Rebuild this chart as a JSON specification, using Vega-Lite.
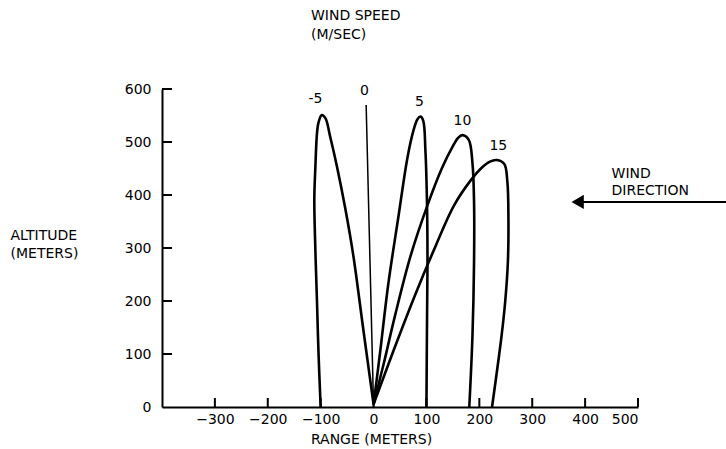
{
  "$schema": "https://vega.github.io/schema/vega-lite/v6.json",
  "width": 476,
  "height": 318,
  "autosize": {"type": "none"},
  "padding": {"left": 162, "top": 89, "right": 88, "bottom": 42},
  "background": "white",
  "title": {
    "text": ["WIND SPEED", "(M/SEC)"],
    "anchor": "start",
    "frame": "group",
    "dx": 149,
    "offset": 40,
    "font": "DejaVu Sans",
    "fontSize": 14,
    "fontWeight": "normal",
    "lineHeight": 19,
    "color": "black"
  },
  "config": {
    "view": {"stroke": null},
    "font": "DejaVu Sans",
    "axis": {
      "grid": false,
      "domainColor": "black",
      "domainWidth": 2,
      "ticks": false,
      "labelFont": "DejaVu Sans",
      "labelFontSize": 14,
      "labelColor": "black",
      "titleFont": "DejaVu Sans",
      "titleFontSize": 14,
      "titleFontWeight": "normal",
      "titleColor": "black"
    }
  },
  "datasets": {
    "curves": [
      {"s": "-5", "i": 1, "x": -100, "y": 0},
      {"s": "-5", "i": 2, "x": -104, "y": 100},
      {"s": "-5", "i": 3, "x": -107, "y": 200},
      {"s": "-5", "i": 4, "x": -110, "y": 296},
      {"s": "-5", "i": 5, "x": -112, "y": 391},
      {"s": "-5", "i": 6, "x": -110, "y": 453},
      {"s": "-5", "i": 7, "x": -107, "y": 516},
      {"s": "-5", "i": 8, "x": -104, "y": 537},
      {"s": "-5", "i": 9, "x": -98, "y": 551},
      {"s": "-5", "i": 10, "x": -91, "y": 545},
      {"s": "-5", "i": 11, "x": -82, "y": 510},
      {"s": "-5", "i": 12, "x": -69, "y": 453},
      {"s": "-5", "i": 13, "x": -53, "y": 372},
      {"s": "-5", "i": 14, "x": -38, "y": 284},
      {"s": "-5", "i": 15, "x": -20, "y": 151},
      {"s": "-5", "i": 16, "x": 0, "y": 5},
      {"s": "0", "i": 1, "x": 0, "y": 0},
      {"s": "0", "i": 2, "x": -14, "y": 570},
      {"s": "5", "i": 1, "x": 0, "y": 5},
      {"s": "5", "i": 2, "x": 12, "y": 100},
      {"s": "5", "i": 3, "x": 28, "y": 233},
      {"s": "5", "i": 4, "x": 47, "y": 359},
      {"s": "5", "i": 5, "x": 64, "y": 470},
      {"s": "5", "i": 6, "x": 75, "y": 520},
      {"s": "5", "i": 7, "x": 83, "y": 543},
      {"s": "5", "i": 8, "x": 89, "y": 548},
      {"s": "5", "i": 9, "x": 94, "y": 540},
      {"s": "5", "i": 10, "x": 98, "y": 485},
      {"s": "5", "i": 11, "x": 101, "y": 387},
      {"s": "5", "i": 12, "x": 102, "y": 274},
      {"s": "5", "i": 13, "x": 101, "y": 150},
      {"s": "5", "i": 14, "x": 100, "y": 0},
      {"s": "10", "i": 1, "x": 0, "y": 5},
      {"s": "10", "i": 2, "x": 20, "y": 85},
      {"s": "10", "i": 3, "x": 40, "y": 170},
      {"s": "10", "i": 4, "x": 70, "y": 285},
      {"s": "10", "i": 5, "x": 101, "y": 378},
      {"s": "10", "i": 6, "x": 129, "y": 450},
      {"s": "10", "i": 7, "x": 151, "y": 494},
      {"s": "10", "i": 8, "x": 160, "y": 508},
      {"s": "10", "i": 9, "x": 168, "y": 513},
      {"s": "10", "i": 10, "x": 180, "y": 504},
      {"s": "10", "i": 11, "x": 187, "y": 460},
      {"s": "10", "i": 12, "x": 190, "y": 387},
      {"s": "10", "i": 13, "x": 190, "y": 274},
      {"s": "10", "i": 14, "x": 187, "y": 134},
      {"s": "10", "i": 15, "x": 181, "y": 0},
      {"s": "15", "i": 1, "x": 0, "y": 5},
      {"s": "15", "i": 2, "x": 38, "y": 107},
      {"s": "15", "i": 3, "x": 78, "y": 210},
      {"s": "15", "i": 4, "x": 114, "y": 296},
      {"s": "15", "i": 5, "x": 152, "y": 380},
      {"s": "15", "i": 6, "x": 184, "y": 428},
      {"s": "15", "i": 7, "x": 204, "y": 451},
      {"s": "15", "i": 8, "x": 220, "y": 463},
      {"s": "15", "i": 9, "x": 233, "y": 466},
      {"s": "15", "i": 10, "x": 247, "y": 459},
      {"s": "15", "i": 11, "x": 253, "y": 425},
      {"s": "15", "i": 12, "x": 255, "y": 356},
      {"s": "15", "i": 13, "x": 254, "y": 274},
      {"s": "15", "i": 14, "x": 249, "y": 200},
      {"s": "15", "i": 15, "x": 242, "y": 134},
      {"s": "15", "i": 16, "x": 224, "y": 0}
    ],
    "labels": [
      {"t": "-5", "x": -110, "y": 573},
      {"t": "0", "x": -17, "y": 589},
      {"t": "5", "x": 87, "y": 567},
      {"t": "10", "x": 168, "y": 532},
      {"t": "15", "x": 236, "y": 485}
    ],
    "ticks": [
      {"x": -300, "x2": -300, "y": 0, "y2": 17},
      {"x": -200, "x2": -200, "y": 0, "y2": 17},
      {"x": -100, "x2": -100, "y": 0, "y2": 17},
      {"x": 0, "x2": 0, "y": 0, "y2": 17},
      {"x": 100, "x2": 100, "y": 0, "y2": 17},
      {"x": 200, "x2": 200, "y": 0, "y2": 17},
      {"x": 300, "x2": 300, "y": 0, "y2": 17},
      {"x": 400, "x2": 400, "y": 0, "y2": 17},
      {"x": 500, "x2": 500, "y": 0, "y2": 17},
      {"x": -400, "x2": -381, "y": 100, "y2": 100},
      {"x": -400, "x2": -381, "y": 200, "y2": 200},
      {"x": -400, "x2": -381, "y": 300, "y2": 300},
      {"x": -400, "x2": -381, "y": 400, "y2": 400},
      {"x": -400, "x2": -381, "y": 500, "y2": 500},
      {"x": -400, "x2": -381, "y": 600, "y2": 600}
    ],
    "arrow": [{"x": 380, "x2": 670, "y": 387}],
    "head": [{"x": 386, "y": 387}],
    "wind": [
      {"t": "WIND", "x": 450, "y": 432},
      {"t": "DIRECTION", "x": 450, "y": 400}
    ]
  },
  "encoding": {
    "x": {
      "field": "x",
      "type": "quantitative",
      "scale": {"domain": [-400, 500], "nice": false, "zero": false},
      "axis": {
        "values": [-300, -200, -100, 0, 100, 200, 300, 400, 500],
        "labelPadding": 5,
        "title": "RANGE (METERS)",
        "titleAnchor": "start",
        "titleAlign": "center",
        "titleBaseline": "top",
        "titleX": 209,
        "titleY": 25
      }
    },
    "y": {
      "field": "y",
      "type": "quantitative",
      "scale": {"domain": [0, 600], "nice": false, "zero": false},
      "axis": {
        "values": [0, 100, 200, 300, 400, 500, 600],
        "labelPadding": 11,
        "title": ["ALTITUDE", "(METERS)"],
        "titleAngle": 0,
        "titleAlign": "left",
        "titleBaseline": "top",
        "titleLineHeight": 18,
        "titleX": -152,
        "titleY": 139
      }
    }
  },
  "layer": [
    {
      "data": {"name": "curves"},
      "transform": [{"filter": "datum.s != '0'"}],
      "mark": {"type": "line", "color": "black", "strokeWidth": 2.6, "interpolate": "catmull-rom", "clip": false},
      "encoding": {
        "detail": {"field": "s", "type": "nominal"},
        "order": {"field": "i", "type": "quantitative"}
      }
    },
    {
      "data": {"name": "curves"},
      "transform": [{"filter": "datum.s == '0'"}],
      "mark": {"type": "line", "color": "black", "strokeWidth": 1.5},
      "encoding": {
        "order": {"field": "i", "type": "quantitative"}
      }
    },
    {
      "data": {"name": "labels"},
      "mark": {"type": "text", "color": "black", "fontSize": 14, "align": "center", "baseline": "alphabetic"},
      "encoding": {"text": {"field": "t", "type": "nominal"}}
    },
    {
      "data": {"name": "arrow"},
      "mark": {"type": "rule", "color": "black", "strokeWidth": 2, "clip": false},
      "encoding": {"x2": {"field": "x2"}}
    },
    {
      "data": {"name": "head"},
      "mark": {"type": "point", "shape": "triangle-left", "filled": true, "color": "black", "size": 200, "opacity": 1},
      "encoding": {}
    },
    {
      "data": {"name": "wind"},
      "mark": {"type": "text", "color": "black", "fontSize": 14, "align": "left", "baseline": "alphabetic"},
      "encoding": {"text": {"field": "t", "type": "nominal"}}
    },
    {
      "data": {"name": "ticks"},
      "mark": {"type": "rule", "color": "black", "strokeWidth": 2, "clip": false},
      "encoding": {"x2": {"field": "x2"}, "y2": {"field": "y2"}}
    }
  ]
}
